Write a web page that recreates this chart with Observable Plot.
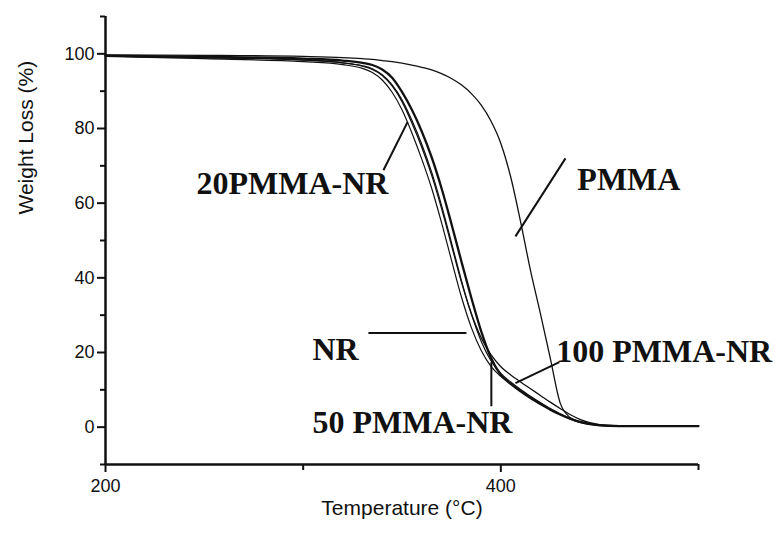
<!DOCTYPE html>
<html><head><meta charset="utf-8">
<script src="https://cdn.jsdelivr.net/npm/d3@7"></script>
<script src="https://cdn.jsdelivr.net/npm/@observablehq/plot@0.6"></script>
<style>
html,body{margin:0;padding:0;background:#fff;}
#chart svg{display:block;}
</style></head><body><div id="chart"></div>
<script>
// Temperature grid (°C)
const temperature = [200, 250, 300, 320, 330, 335, 340, 345, 350, 355, 360, 365, 370, 375, 380, 385, 390, 395, 400, 405, 410, 415, 420, 425, 430, 435, 440, 445, 450, 460, 480, 500];

// Weight (%) per sample
const nrWeight =      [99.3, 98.7, 97.9, 97.1, 96.1, 95.0, 93.0, 89.7, 85.0, 78.8, 71.8, 64.0, 54.8, 44.8, 35.0, 26.8, 20.6, 16.3, 13.6, 11.6, 9.8, 8.0, 6.4, 4.8, 3.4, 2.2, 1.3, 0.8, 0.5, 0.3, 0.3, 0.3];
const pmma20Weight =  [99.5, 99.2, 98.7, 98.2, 97.6, 97.0, 95.8, 93.6, 89.8, 85.0, 79.2, 72.3, 64.0, 54.5, 44.5, 34.8, 25.8, 18.6, 14.0, 11.6, 9.6, 7.8, 6.2, 4.7, 3.4, 2.3, 1.4, 0.8, 0.5, 0.3, 0.3, 0.3];
const pmma50Weight =  [99.4, 99.0, 98.3, 97.6, 96.8, 96.0, 94.4, 91.7, 87.7, 82.2, 75.8, 68.3, 59.4, 49.5, 39.4, 30.4, 23.1, 17.8, 14.4, 12.1, 10.1, 8.3, 6.6, 5.0, 3.6, 2.4, 1.5, 0.9, 0.5, 0.3, 0.3, 0.3];
const pmma100Weight = [99.4, 99.0, 98.4, 97.6, 96.7, 95.8, 94.2, 91.4, 87.2, 81.5, 75.0, 67.5, 58.6, 48.8, 39.0, 30.6, 24.0, 19.4, 16.2, 14.0, 12.1, 10.3, 8.5, 6.7, 5.0, 3.4, 2.1, 1.2, 0.7, 0.4, 0.3, 0.3];
const pmmaWeight =    [99.7, 99.6, 99.3, 99.0, 98.7, 98.5, 98.2, 97.9, 97.5, 97.0, 96.4, 95.7, 94.7, 93.4, 91.7, 89.4, 86.3, 82.0, 76.0, 67.0, 55.0, 42.0, 30.5, 18.5, 6.5, 2.6, 1.4, 0.8, 0.6, 0.4, 0.3, 0.3];

// Annotation labels (anchor in data units) and leader lines
const labelText = ["20PMMA-NR", "PMMA", "NR", "100 PMMA-NR", "50 PMMA-NR"];
const labelT    = [246, 438.7, 304.7, 428, 304.7];
const labelW    = [62.5, 63.5, 18, 17.4, -1.6];
const leaderT1 = [340.6, 432.7, 333, 395.2, 429.6];
const leaderW1 = [68.8, 72.0, 25.2, 5.6, 17.4];
const leaderT2 = [352.8, 407.4, 382.6, 395.2, 407.4];
const leaderW2 = [81.7, 51.1, 25.2, 17.4, 11.8];

const majorYTicks = [0, 20, 40, 60, 80, 100];
const minorYTicks = [-10, 10, 30, 50, 70, 90, 110];
const majorXTicks = [200, 400];
const minorXTicks = [300, 500];

const rowsOf = (w) => temperature.map((t, i) => ({t, w: w[i]}));
const labels = labelText.map((s, i) => ({s, t: labelT[i], w: labelW[i]}));
const leaders = leaderT1.map((t, i) => ({t1: t, w1: leaderW1[i], t2: leaderT2[i], w2: leaderW2[i]}));

const ink = "#111";
const plot = Plot.plot({
  width: 775,
  height: 537,
  marginLeft: 105,
  marginRight: 77,
  marginTop: 16,
  marginBottom: 73,
  style: {background: "#fff", color: ink, fontFamily: "'Liberation Sans', Arial, sans-serif"},
  x: {domain: [200, 500]},
  y: {domain: [-10, 110]},
  marks: [
    Plot.line(rowsOf(nrWeight), {x: "t", y: "w", stroke: ink, strokeWidth: 1.2, curve: "monotone-x"}),
    Plot.line(rowsOf(pmma50Weight), {x: "t", y: "w", stroke: ink, strokeWidth: 1.2, curve: "monotone-x"}),
    Plot.line(rowsOf(pmma100Weight), {x: "t", y: "w", stroke: ink, strokeWidth: 1.3, curve: "monotone-x"}),
    Plot.line(rowsOf(pmma20Weight), {x: "t", y: "w", stroke: ink, strokeWidth: 2.3, curve: "monotone-x"}),
    Plot.line(rowsOf(pmmaWeight), {x: "t", y: "w", stroke: ink, strokeWidth: 1.3, curve: "monotone-x"}),
    Plot.link(leaders, {x1: "t1", y1: "w1", x2: "t2", y2: "w2", stroke: ink, strokeWidth: 2}),
    Plot.text(labels, {x: "t", y: "w", text: "s", textAnchor: "start", lineAnchor: "bottom",
      fontFamily: "'Liberation Serif', 'Times New Roman', serif", fontWeight: "bold", fontSize: 32, fill: ink}),
    // axes
    Plot.axisY(majorYTicks, {tickSize: 8, tickPadding: 3, fontSize: 18, strokeWidth: 2, label: null}),
    Plot.axisY(minorYTicks, {tickSize: 5, tickFormat: () => "", strokeWidth: 2, label: null}),
    Plot.axisX(majorXTicks, {tickSize: 8, tickPadding: 7, fontSize: 18, strokeWidth: 2, label: null}),
    Plot.axisX(minorXTicks, {tickSize: 6, tickFormat: () => "", strokeWidth: 2, label: null}),
    Plot.ruleX([200], {y1: -10, y2: 110, stroke: ink, strokeWidth: 2.5}),
    Plot.ruleY([-10], {x1: 200, x2: 500, stroke: ink, strokeWidth: 2.5}),
    Plot.text(["Weight Loss (%)"], {frameAnchor: "left", rotate: -90, dx: -79, dy: -26, fontSize: 21, fill: ink}),
    Plot.text(["Temperature (°C)"], {frameAnchor: "bottom", dy: 50, fontSize: 21, fill: ink})
  ]
});
document.getElementById("chart").appendChild(plot);
</script>
</body></html>
